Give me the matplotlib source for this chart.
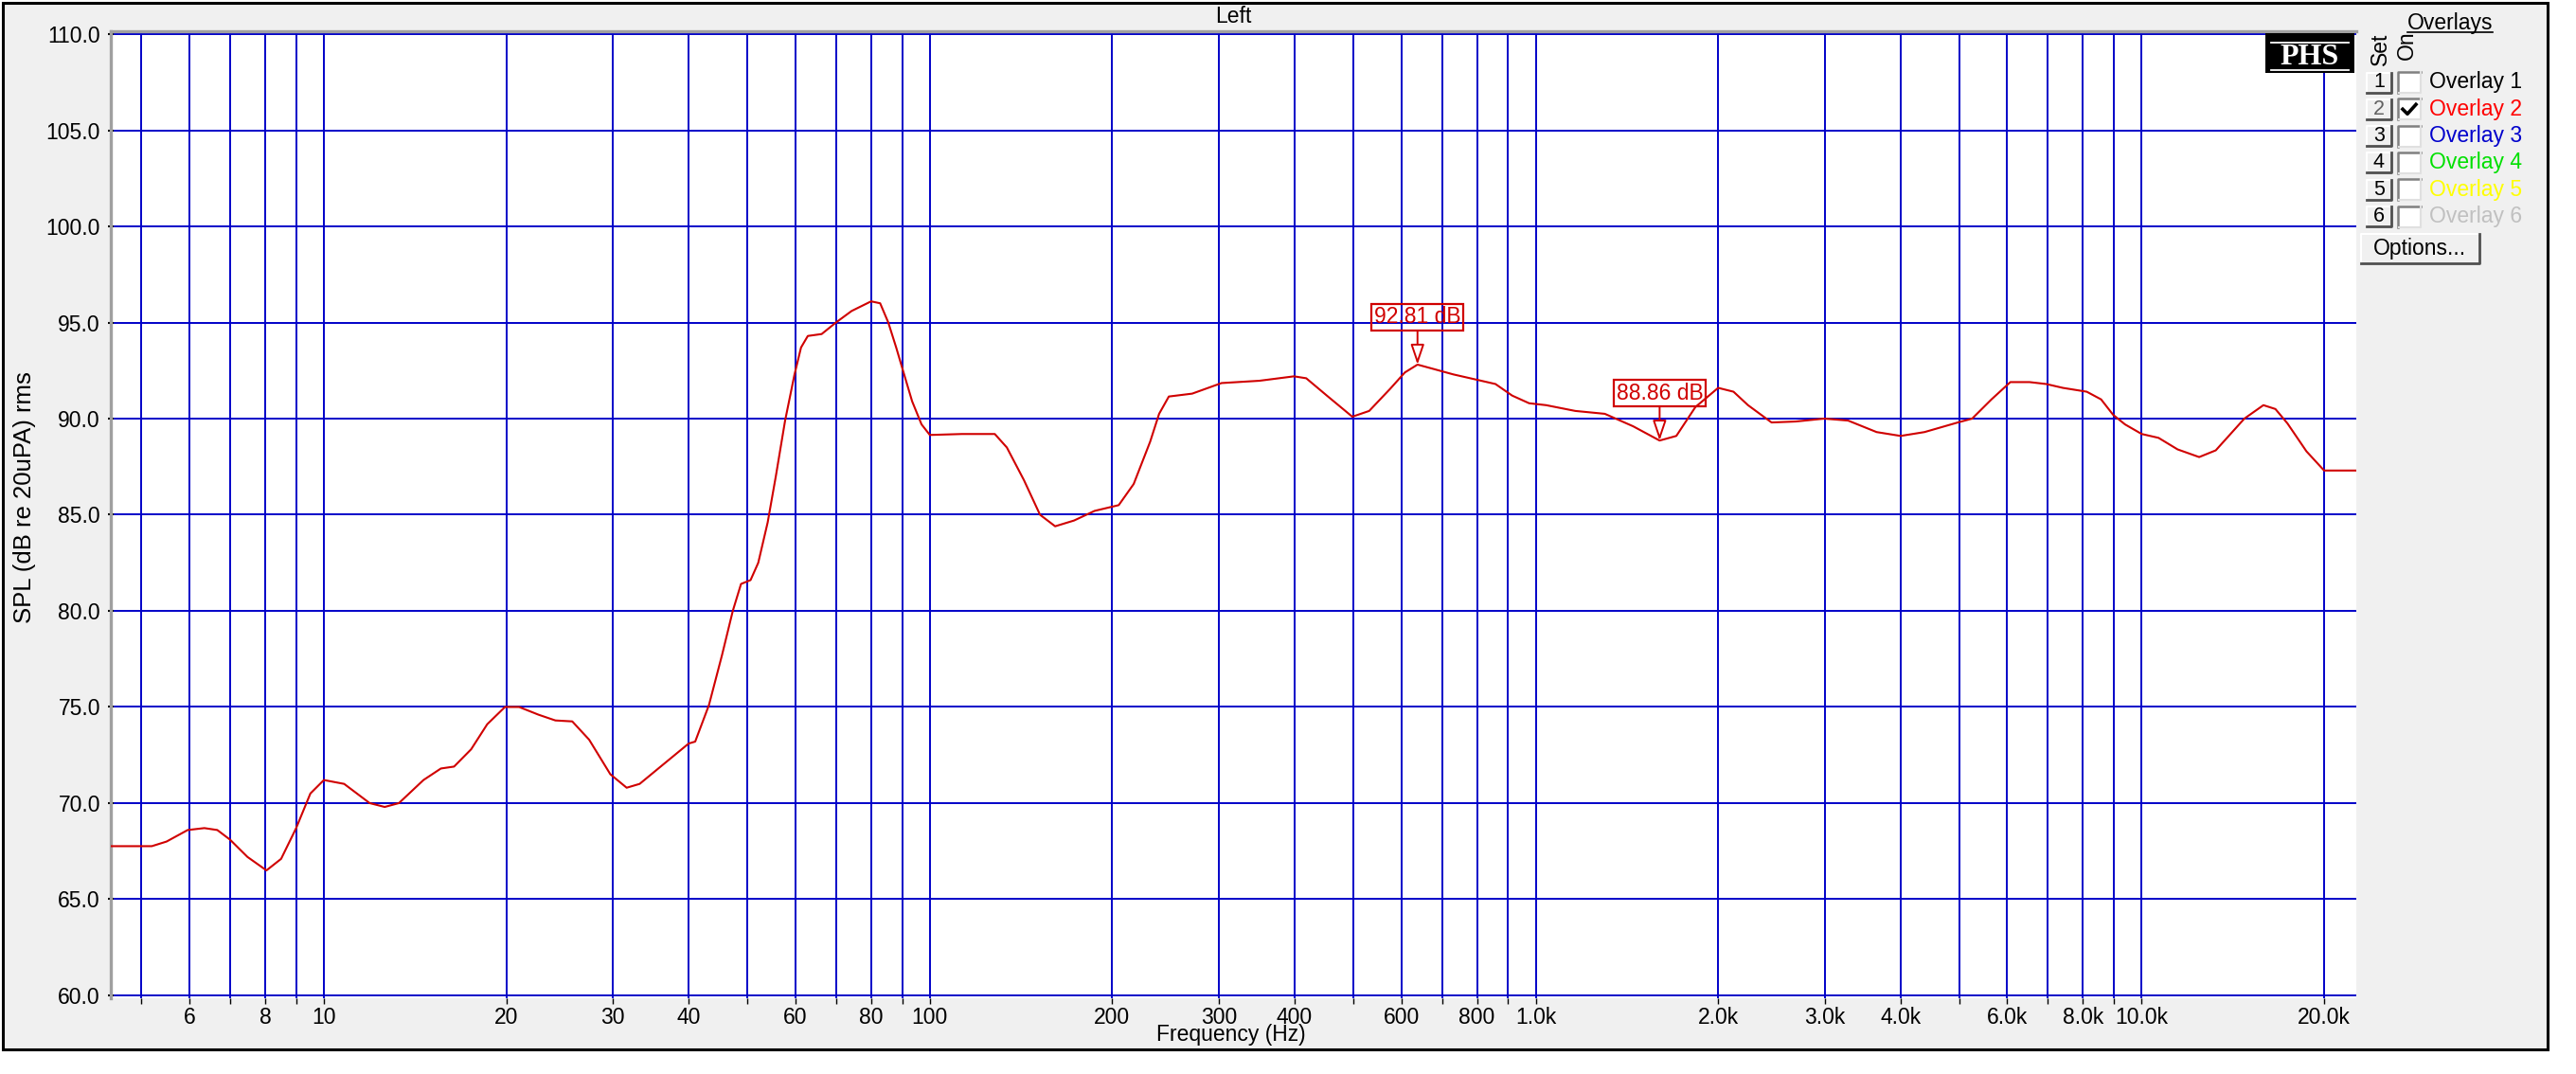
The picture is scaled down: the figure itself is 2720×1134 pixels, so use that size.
import matplotlib.pyplot as plt
from matplotlib.patches import Rectangle
from matplotlib.ticker import FixedLocator, NullLocator

plt.rcParams['font.family'] = ['Liberation Sans', 'DejaVu Sans']

freq_hz = [4.43, 5.2, 5.5, 5.96, 6.35, 6.67, 7.0, 7.48, 8.04, 8.5, 9.0, 9.5,
           10.0, 10.8, 11.9, 12.6, 13.3, 14.6, 15.6, 16.4, 17.5, 18.6, 19.9,
           21.0, 22.6, 24.1, 25.7, 27.4, 29.7, 31.6, 33.2, 36.6, 40.0, 41.0,
           43.2, 45.4, 47.3, 48.8, 50.6, 52.1, 54.0, 55.7, 57.7, 59.8, 61.3,
           62.9, 66.3, 70.0, 74.3, 80.0, 82.8, 85.4, 88.0, 90.7, 93.5, 96.9,
           100, 113, 128, 134, 143, 152, 161, 173, 187, 205, 217, 231, 239,
           248, 271, 303, 350, 399, 418, 452, 498, 531, 575, 608, 638, 675,
           731, 805, 858, 914, 975, 1040, 1162, 1300, 1448, 1601, 1706, 1834,
           2000, 2120, 2240, 2450, 2684, 2993, 3276, 3652, 4000, 4380, 4972,
           5250, 5650, 6070, 6530, 6955, 7410, 8115, 8570, 8970, 9385, 10000,
           10660, 11460, 12440, 13250, 14770, 15880, 16620, 17400, 18700,
           20000, 22600]
spl_db = [67.76, 67.76, 68.0, 68.6, 68.7, 68.6, 68.1, 67.2, 66.5, 67.1, 68.7,
          70.5, 71.2, 71.0, 70.0, 69.8, 70.0, 71.2, 71.8, 71.9, 72.8, 74.1,
          75.0, 75.0, 74.6, 74.3, 74.25, 73.3, 71.5, 70.8, 71.0, 72.1, 73.1,
          73.2, 75.1, 77.7, 80.0, 81.4, 81.6, 82.5, 84.6, 87.0, 89.9, 92.3,
          93.7, 94.3, 94.4, 95.0, 95.6, 96.1, 96.0, 95.0, 93.7, 92.3, 90.9,
          89.7, 89.15, 89.2, 89.2, 88.5, 86.8, 85.0, 84.4, 84.7, 85.2, 85.5,
          86.6, 88.8, 90.25, 91.15, 91.3, 91.85, 91.97, 92.2, 92.1, 91.2,
          90.1, 90.4, 91.55, 92.4, 92.81, 92.6, 92.3, 92.0, 91.8, 91.2, 90.8,
          90.7, 90.4, 90.25, 89.6, 88.86, 89.1, 90.6, 91.6, 91.4, 90.7, 89.8,
          89.85, 90.0, 89.9, 89.3, 89.1, 89.3, 89.8, 90.0, 91.0, 91.9, 91.9,
          91.8, 91.6, 91.4, 91.0, 90.2, 89.7, 89.2, 89.0, 88.4, 88.0, 88.35,
          90.0, 90.7, 90.5, 89.75, 88.3, 87.3, 87.3]

grid_freqs = [5, 6, 7, 8, 9, 10, 20, 30, 40, 50, 60, 70, 80, 90, 100, 200,
              300, 400, 500, 600, 700, 800, 900, 1000, 2000, 3000, 4000, 5000,
              6000, 7000, 8000, 9000, 10000, 20000]
freq_labels = ['', '6', '', '8', '', '10', '20', '30', '40', '', '60', '',
               '80', '', '100', '200', '300', '400', '', '600', '', '800', '',
               '1.0k', '2.0k', '3.0k', '4.0k', '', '6.0k', '', '8.0k', '',
               '10.0k', '20.0k']
spl_ticks = [60, 65, 70, 75, 80, 85, 90, 95, 100, 105, 110]

marker_freqs = [638, 1601]
marker_values = [92.81, 88.86]

overlay_names = ['Overlay 1', 'Overlay 2', 'Overlay 3', 'Overlay 4',
                 'Overlay 5', 'Overlay 6']
overlay_on = [False, True, False, False, False, False]

W, H = 2720, 1134
FS = 16.5
GRID = '#0000C8'
RED = '#D00000'
overlay_colors = ['black', '#FF0000', '#0000CC', '#00E000', '#FFFF00', '#C0C0C0']

fig = plt.figure(figsize=(W / 100, H / 100), dpi=100, facecolor='white')

# window background with black frame
bg = fig.add_axes([0, 0, 1, 1], zorder=0)
bg.set_xlim(0, W)
bg.set_ylim(H, 0)
bg.axis('off')
bg.add_patch(Rectangle((3, 3), 2687, 1105, fc='#F0F0F0', ec='black', lw=2.2))

ax = fig.add_axes([117 / W, 1 - 1054 / H, (2488 - 117) / W, (1054 - 33) / H],
                  zorder=2)
ax.set_facecolor('white')
ax.set_xscale('log')
ax.set_xlim(4.45, 22600)
ax.set_ylim(59.85, 110.15)

ax.xaxis.set_major_locator(FixedLocator(grid_freqs))
ax.xaxis.set_minor_locator(NullLocator())
ax.set_xticklabels(freq_labels)
ax.set_yticks(spl_ticks)
ax.set_yticklabels([f'{v:.1f}' for v in spl_ticks])
ax.tick_params(axis='x', direction='out', length=4.5, width=1, pad=2,
               labelsize=FS, colors='black')
ax.tick_params(axis='y', direction='inout', length=4, width=1.5, pad=6,
               labelsize=FS, colors='black')

ax.grid(True, which='major', color=GRID, lw=1.4)
ax.set_axisbelow(True)

for side in ['bottom', 'right']:
    ax.spines[side].set_visible(False)
for side in ['top', 'left']:
    ax.spines[side].set_color('#A0A0A0')
    ax.spines[side].set_linewidth(2.4)

ax.plot(freq_hz, spl_db, color=RED, lw=1.5, zorder=3, solid_joinstyle='round')

for f, v in zip(marker_freqs, marker_values):
    ax.annotate(f'{v:.2f} dB', xy=(f, v), xytext=(0, 36),
                textcoords='offset points', ha='center', va='center',
                color=RED, fontsize=FS, zorder=4,
                bbox=dict(boxstyle='square,pad=0.12', fc='none', ec=RED, lw=1.6),
                arrowprops=dict(arrowstyle='-|>,head_length=0.65,head_width=0.22',
                                mutation_scale=20, fc='white', ec=RED, lw=1.4,
                                shrinkA=0, shrinkB=0))

# overlay layer in pixel coordinates
ov = fig.add_axes([0, 0, 1, 1], zorder=5)
ov.set_xlim(0, W)
ov.set_ylim(H, 0)
ov.axis('off')
ov.patch.set_alpha(0)

ov.text(1302, 17, 'Left', ha='center', va='center', fontsize=FS)
ov.text(1300, 1093, 'Frequency (Hz)', ha='center', va='center', fontsize=FS)
ov.text(26, 525, 'SPL (dB re 20uPA) rms', ha='center', va='center',
        rotation=90, fontsize=18.5)

# PHS logo
ov.add_patch(Rectangle((2392, 35), 94, 42, fc='black', ec='none'))
ov.plot([2398, 2480], [45, 45], color='white', lw=1.3)
ov.plot([2398, 2480], [74, 74], color='white', lw=1.3)
ov.text(2439, 60, 'PHS', ha='center', va='center', color='white',
        fontsize=23, fontweight='bold', family='Liberation Serif')

# overlays panel
ov.text(2587, 24, 'Overlays', ha='center', va='center', fontsize=FS)
ov.plot([2542, 2632], [34, 34], color='black', lw=1.2)
ov.text(2513, 52, 'Set', ha='center', va='center', rotation=90, fontsize=FS)
ov.text(2541, 48, 'On', ha='center', va='center', rotation=90, fontsize=FS)


def button(x0, y0, w, h):
    ov.add_patch(Rectangle((x0, y0), w, h, fc='#F0F0F0', ec='none'))
    ov.plot([x0, x0, x0 + w], [y0 + h, y0, y0], color='white', lw=1.5)
    ov.plot([x0, x0 + w, x0 + w], [y0 + h, y0 + h, y0], color='#505050', lw=2)


for i, name in enumerate(overlay_names):
    yc = 87 + i * 28.3
    button(2499, yc - 10.5, 26, 21)
    ov.text(2512, yc, str(i + 1), ha='center', va='center', fontsize=FS - 1,
            color='#606060' if overlay_on[i] else 'black')
    ov.add_patch(Rectangle((2532, yc - 11), 24, 22, fc='white', ec='none'))
    ov.plot([2532, 2532, 2556], [yc + 11, yc - 11, yc - 11], color='#808080', lw=1.8)
    ov.plot([2533, 2556, 2556], [yc + 11, yc + 11, yc - 11], color='#E0E0E0', lw=1.5)
    if overlay_on[i]:
        ov.plot([2537, 2542, 2551], [yc, yc + 5, yc - 5], color='black', lw=2.6)
    ov.text(2565, yc, name, ha='left', va='center', fontsize=FS,
            color=overlay_colors[i])

button(2493, 247, 125, 31)
ov.text(2555, 263, 'Options...', ha='center', va='center', fontsize=FS)

fig.savefig('out.png', dpi=100, facecolor=fig.get_facecolor())
